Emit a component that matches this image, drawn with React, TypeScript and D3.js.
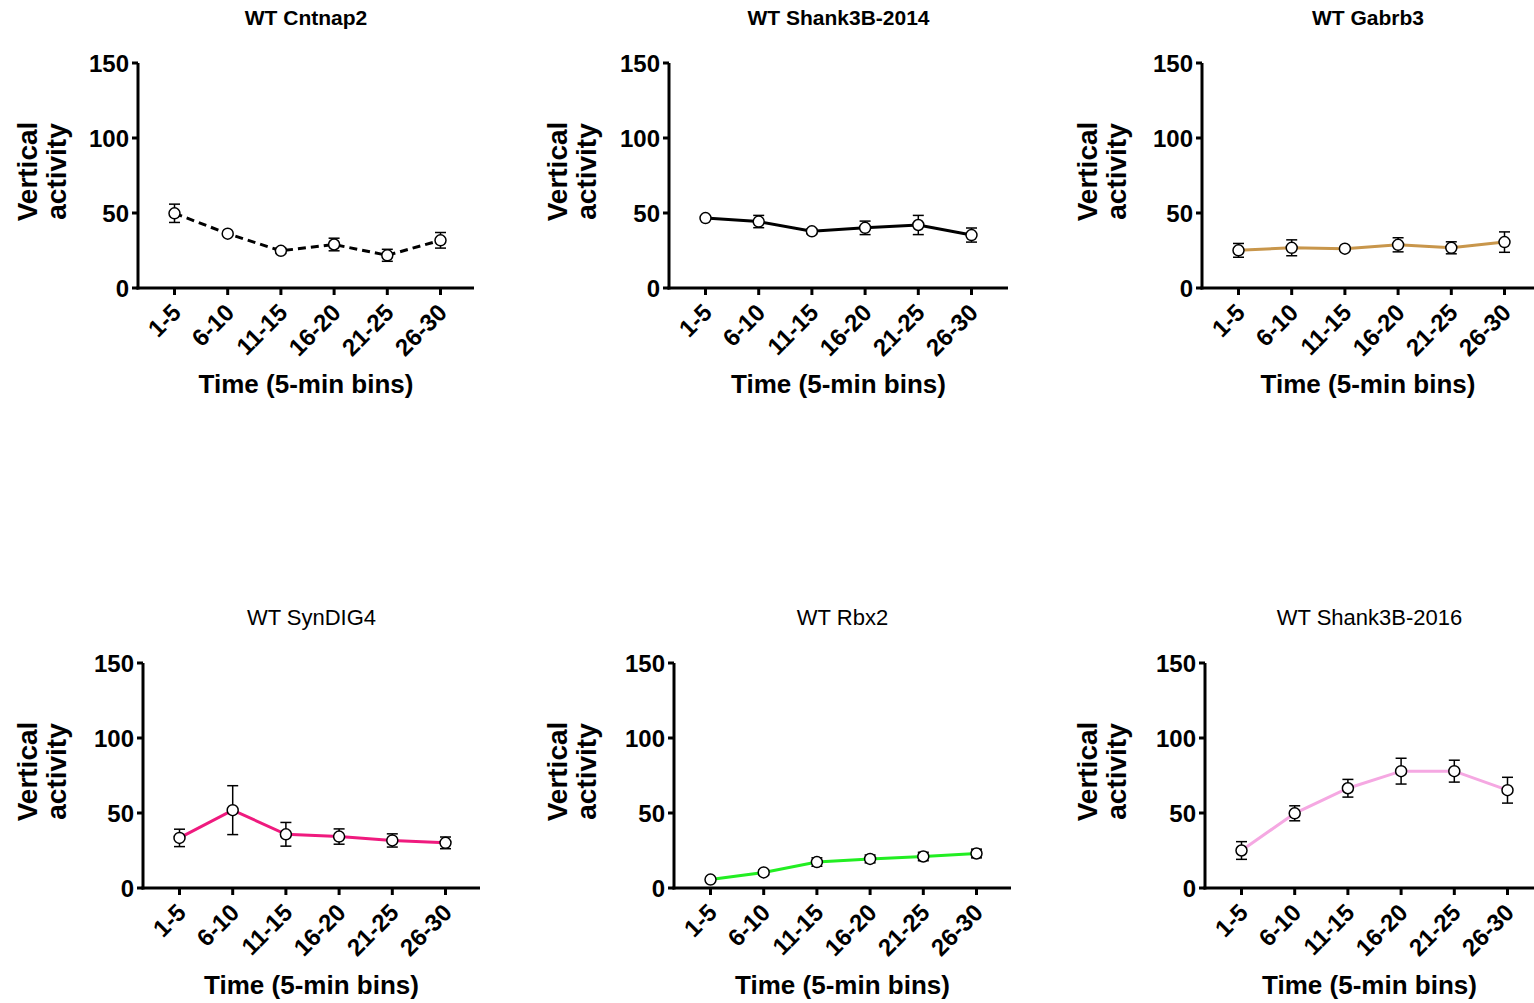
import React from "react";
import * as d3 from "d3";

const categories = ["1-5", "6-10", "11-15", "16-20", "21-25", "26-30"];
const yTicks = [0, 50, 100, 150];

const titles = ["WT Cntnap2", "WT Shank3B-2014", "WT Gabrb3", "WT SynDIG4", "WT Rbx2", "WT Shank3B-2016"];
const colors = ["#000000", "#000000", "#C8964B", "#EF1A7E", "#22EE22", "#F5A8E2"];
const dashed = [true, false, false, false, false, false];

const cntnap2Mean = [49.8, 36.2, 24.8, 29.0, 21.8, 31.8];
const cntnap2Err = [6.1, 1.0, 1.8, 4.2, 4.0, 5.2];
const shank2014Mean = [46.6, 44.3, 37.8, 40.1, 42.0, 35.3];
const shank2014Err = [1.0, 4.1, 1.6, 4.5, 6.4, 4.7];
const gabrb3Mean = [25.1, 26.8, 26.2, 28.8, 26.8, 30.6];
const gabrb3Err = [4.6, 5.3, 1.2, 4.7, 4.0, 6.8];
const syndig4Mean = [33.4, 51.9, 35.8, 34.3, 31.7, 30.1];
const syndig4Err = [5.8, 16.3, 7.9, 5.1, 4.4, 3.9];
const rbx2Mean = [5.6, 10.4, 17.3, 19.4, 21.0, 23.0];
const rbx2Err = [1.0, 1.6, 2.8, 2.6, 2.8, 2.9];
const shank2016Mean = [25.0, 49.8, 66.5, 77.9, 77.9, 65.2];
const shank2016Err = [5.9, 5.0, 5.9, 8.6, 7.3, 8.6];

const means = [cntnap2Mean, shank2014Mean, gabrb3Mean, syndig4Mean, rbx2Mean, shank2016Mean];
const errs = [cntnap2Err, shank2014Err, gabrb3Err, syndig4Err, rbx2Err, shank2016Err];

const FONT = "'Liberation Sans', Arial, Helvetica, sans-serif";

// layout
const colX = [0, 530, 1060];
const axisXTop = [138, 669, 1202];
const axisXBottom = [143, 674, 1205];
const axisEndTop = [474, 1008, 1534];
const axisEndBottom = [480, 1011, 1534];
const rowY = [0, 600];
const xTitleY = [393, 994];

function Panel({ idx }: { idx: number }) {
  const row = idx < 3 ? 0 : 1;
  const col = idx % 3;
  const ax = row === 0 ? axisXTop[col] : axisXBottom[col];
  const aEnd = row === 0 ? axisEndTop[col] : axisEndBottom[col];
  const oy = rowY[row];
  const yTop = oy + 63;
  const yBot = oy + 288;
  const y = d3.scaleLinear().domain([0, 150]).range([yBot, yTop]);
  const x = d3
    .scalePoint<string>()
    .domain(categories)
    .range([ax + 36.5, ax + 36.5 + 5 * 53.2]);
  const data = categories.map((c, i) => ({ c, m: means[idx][i], e: errs[idx][i] }));
  const line = d3
    .line<{ c: string; m: number }>()
    .x((d) => x(d.c) as number)
    .y((d) => y(d.m));
  const mid = (ax + aEnd) / 2;
  const yLabelCy = (yTop + yBot) / 2 - 4;
  return (
    <g>
      <text
        x={mid}
        y={oy + 25}
        textAnchor="middle"
        fontFamily={FONT}
        fontWeight={row === 0 ? "bold" : "normal"}
        fontSize={row === 0 ? 21 : 22}
      >
        {titles[idx]}
      </text>
      {/* axes */}
      <line x1={ax} x2={ax} y1={yTop} y2={yBot + 1.5} stroke="#000" strokeWidth={3} />
      <line x1={ax - 1.5} x2={aEnd} y1={yBot} y2={yBot} stroke="#000" strokeWidth={3} />
      {yTicks.map((t) => (
        <g key={t}>
          <line x1={ax - 6} x2={ax} y1={y(t)} y2={y(t)} stroke="#000" strokeWidth={3} />
          <text
            x={ax - 9}
            y={y(t)}
            dy="0.36em"
            textAnchor="end"
            fontFamily={FONT}
            fontWeight="bold"
            fontSize={24}
          >
            {t}
          </text>
        </g>
      ))}
      {categories.map((c) => (
        <g key={c}>
          <line x1={x(c)} x2={x(c)} y1={yBot} y2={yBot + 7} stroke="#000" strokeWidth={3} />
          <text
            transform={`translate(${(x(c) as number) + 8},${yBot + 26}) rotate(-45)`}
            textAnchor="end"
            fontFamily={FONT}
            fontWeight="bold"
            fontSize={24}
          >
            {c}
          </text>
        </g>
      ))}
      <text
        x={mid}
        y={xTitleY[row]}
        textAnchor="middle"
        fontFamily={FONT}
        fontWeight="bold"
        fontSize={26}
      >
        Time (5-min bins)
      </text>
      <text
        transform={`translate(${colX[col] + 37},${yLabelCy}) rotate(-90)`}
        textAnchor="middle"
        fontFamily={FONT}
        fontWeight="bold"
        fontSize={28}
      >
        Vertical
      </text>
      <text
        transform={`translate(${colX[col] + 66},${yLabelCy}) rotate(-90)`}
        textAnchor="middle"
        fontFamily={FONT}
        fontWeight="bold"
        fontSize={28}
      >
        activity
      </text>
      {/* data */}
      <path
        d={line(data) || ""}
        fill="none"
        stroke={colors[idx]}
        strokeWidth={3}
        strokeDasharray={dashed[idx] ? "8,5" : undefined}
      />
      {data.map((d) => {
        const cx = x(d.c) as number;
        return (
          <g key={d.c} stroke="#000" strokeWidth={1.5}>
            <line x1={cx} x2={cx} y1={y(d.m + d.e)} y2={y(d.m - d.e)} />
            <line x1={cx - 5.5} x2={cx + 5.5} y1={y(d.m + d.e)} y2={y(d.m + d.e)} />
            <line x1={cx - 5.5} x2={cx + 5.5} y1={y(d.m - d.e)} y2={y(d.m - d.e)} />
          </g>
        );
      })}
      {data.map((d) => (
        <circle
          key={d.c}
          cx={x(d.c) as number}
          cy={y(d.m)}
          r={5.5}
          fill="#fff"
          stroke="#000"
          strokeWidth={1.5}
        />
      ))}
    </g>
  );
}

export default function App() {
  return (
    <svg
      width={1534}
      height={1003}
      style={{ position: "absolute", left: 0, top: 0, background: "#fff" }}
    >
      <rect width={1534} height={1003} fill="#fff" />
      {titles.map((_, i) => (
        <Panel key={i} idx={i} />
      ))}
    </svg>
  );
}
